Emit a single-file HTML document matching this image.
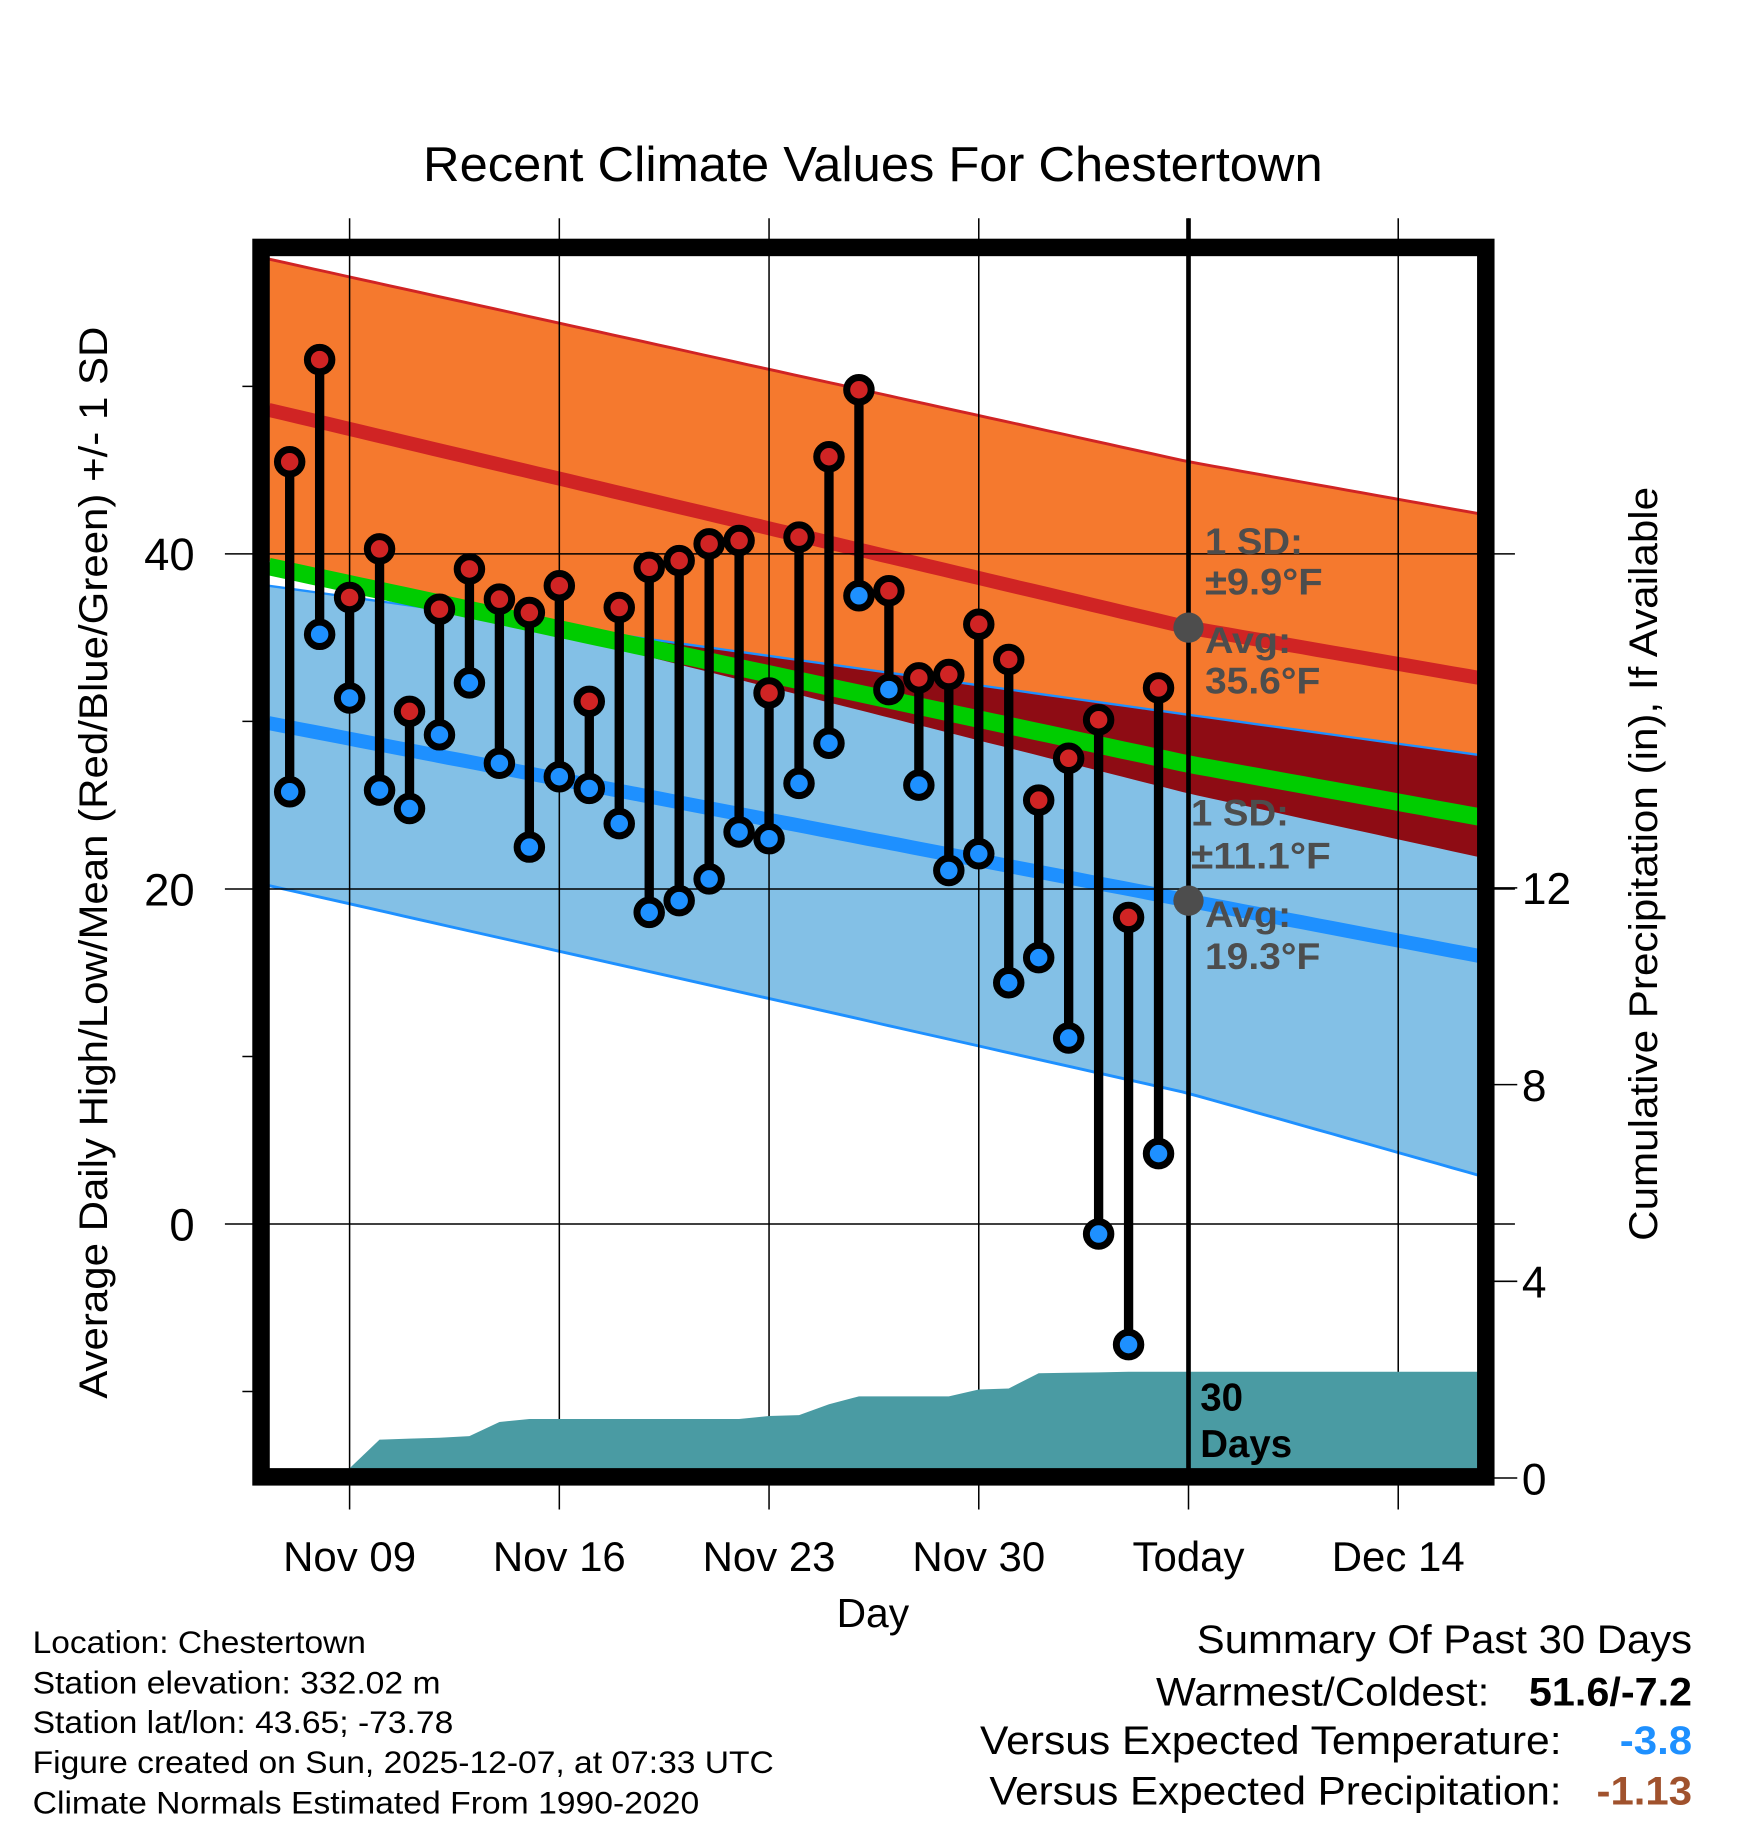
<!DOCTYPE html>
<html><head><meta charset="utf-8"><style>
html,body{margin:0;padding:0;background:#fff}
svg{display:block}
text{font-family:"Liberation Sans",Arial,sans-serif}
</style></head><body>
<svg id="c" width="1748" height="1828" viewBox="0 0 1500 1568" xmlns="http://www.w3.org/2000/svg">
<rect width="1500" height="1568" fill="#fff"/>
<defs><clipPath id="plotclip"><rect x="231" y="219" width="1037" height="1041"/></clipPath></defs>
<g id="bands" clip-path="url(#plotclip)"></g>
<g id="grid"></g>
<g id="precip" clip-path="url(#plotclip)"></g>
<g id="marks"></g>
<g id="axes"></g>
<text x="749" y="155" font-size="42" text-anchor="middle" textLength="772" lengthAdjust="spacingAndGlyphs">Recent Climate Values For Chestertown</text>
<text transform="translate(92,740) rotate(-90)" font-size="34" text-anchor="middle" textLength="920" lengthAdjust="spacingAndGlyphs">Average Daily High/Low/Mean (Red/Blue/Green) +/- 1 SD</text>
<text transform="translate(1422,741) rotate(-90)" font-size="34" text-anchor="middle" textLength="647" lengthAdjust="spacingAndGlyphs">Cumulative Precipitation (in), If Available</text>
<text x="749" y="1396" font-size="35" text-anchor="middle">Day</text>
<g font-size="27" lengthAdjust="spacingAndGlyphs">
<text x="28" y="1418" textLength="286" lengthAdjust="spacingAndGlyphs">Location: Chestertown</text>
<text x="28" y="1453" textLength="350" lengthAdjust="spacingAndGlyphs">Station elevation: 332.02 m</text>
<text x="28" y="1487" textLength="361" lengthAdjust="spacingAndGlyphs">Station lat/lon: 43.65; -73.78</text>
<text x="28" y="1521" textLength="636" lengthAdjust="spacingAndGlyphs">Figure created on Sun, 2025-12-07, at 07:33 UTC</text>
<text x="28" y="1556" textLength="572" lengthAdjust="spacingAndGlyphs">Climate Normals Estimated From 1990-2020</text>
</g>
<g font-size="34">
<text x="1027" y="1418" textLength="425" lengthAdjust="spacingAndGlyphs">Summary Of Past 30 Days</text>
<text x="992" y="1463" textLength="286" lengthAdjust="spacingAndGlyphs">Warmest/Coldest:</text>
<text x="1312" y="1463" font-weight="bold" textLength="140" lengthAdjust="spacingAndGlyphs">51.6/-7.2</text>
<text x="841" y="1505" textLength="499" lengthAdjust="spacingAndGlyphs">Versus Expected Temperature:</text>
<text x="1390" y="1505" font-weight="bold" fill="#1e90ff" textLength="62" lengthAdjust="spacingAndGlyphs">-3.8</text>
<text x="849" y="1548" textLength="491" lengthAdjust="spacingAndGlyphs">Versus Expected Precipitation:</text>
<text x="1370" y="1548" font-weight="bold" fill="#a0522d" textLength="82" lengthAdjust="spacingAndGlyphs">-1.13</text>
</g>
</svg>
<script>
// Data
const highs=[45.5,51.6,37.4,40.3,30.6,36.7,39.1,37.3,36.5,38.1,31.2,36.8,39.2,39.6,40.6,40.8,31.7,41.0,45.8,49.8,37.8,32.6,32.8,35.8,33.7,25.3,27.8,30.1,18.3,32.0];
const lows=[25.8,35.2,31.4,25.9,24.8,29.2,32.3,27.5,22.5,26.7,26.0,23.9,18.6,19.3,20.6,23.4,23.0,26.3,28.7,37.5,31.9,26.2,21.1,22.1,14.4,15.9,11.1,-0.6,-7.2,4.2];
const precip=[0,0,0.2,0.78,0.8,0.82,0.85,1.14,1.2,1.2,1.2,1.2,1.2,1.2,1.2,1.2,1.26,1.28,1.5,1.66,1.66,1.66,1.66,1.8,1.82,2.13,2.14,2.15,2.16,2.16];
const normDays=[-2.7,28,37.7];
const highMean=[48.6,35.6,32.6];
const highUpper=[57.6,45.5,42.4];
const highLower=[39.6,25.7,21.9];
const lowMean=[29.9,19.3,16.0];
const lowUpper=[38.1,30.4,28.0];
const lowLower=[20.2,7.8,2.9];
const xTickDays=[0,7,14,21,28,35];
const xTickLabels=["Nov 09","Nov 16","Nov 23","Nov 30","Today","Dec 14"];
const yTicks=[0,20,40];
const yMinor=[-10,10,30,50];
const y2Ticks=[0,4,8,12];
const firstDay=-2; // Nov 7 relative to Nov 9
const todayDay=28;

const NS="http://www.w3.org/2000/svg";
const X=d=>300+d*25.71;
const Y=t=>1050-t*14.375;
const Y2=p=>1268-p*42.2;
function mk(tag,attrs,parent){const e=document.createElementNS(NS,tag);for(const k in attrs)e.setAttribute(k,attrs[k]);parent.appendChild(e);return e;}
function interp(arr,d){for(let i=0;i<normDays.length-1;i++){if(d<=normDays[i+1]||i==normDays.length-2){const f=(d-normDays[i])/(normDays[i+1]-normDays[i]);return arr[i]+f*(arr[i+1]-arr[i]);}}}
const sample=[];for(let d=-2.7;d<37.7;d+=0.5)sample.push(d);sample.push(37.9);
const line=a=>sample.map(d=>X(d).toFixed(1)+","+Y(interp(a,d)).toFixed(1)).join(" ");
const band=(u,l)=>line(u)+" "+sample.slice().reverse().map(d=>X(d).toFixed(1)+","+Y(interp(l,d)).toFixed(1)).join(" ");
const bands=document.getElementById('bands');
const defs=document.querySelector('defs');
const cp=mk('clipPath',{id:'hiclip'},defs);
mk('polygon',{points:band(highUpper,highLower)},cp);
let e;
e=mk('polygon',{points:band(highUpper,highLower),fill:'#f5792e'},bands);


e=mk('polygon',{points:band(lowUpper,lowLower),fill:'#83c0e6'},bands);


e=mk('polygon',{points:band(lowUpper,lowLower),fill:'#8e0c14','clip-path':'url(#hiclip)'},bands);


mk('polyline',{points:line(highUpper),fill:'none',stroke:'#d02424','stroke-width':2.5},bands);
mk('polyline',{points:line(lowUpper),fill:'none',stroke:'#1e90ff','stroke-width':2},bands);
mk('polyline',{points:line(lowLower),fill:'none',stroke:'#1e90ff','stroke-width':2.5},bands);
const meanArr=highMean.map((h,i)=>(h+lowMean[i])/2);
e=mk('polyline',{points:line(meanArr),fill:'none',stroke:'#00cc00','stroke-width':15},bands);


e=mk('polyline',{points:line(highMean),fill:'none',stroke:'#d02424','stroke-width':12},bands);


e=mk('polyline',{points:line(lowMean),fill:'none',stroke:'#1e90ff','stroke-width':12},bands);



const grid=document.getElementById('grid');
xTickDays.forEach(d=>{mk('line',{x1:X(d),x2:X(d),y1:187,y2:1295,stroke:'#000','stroke-width':1.3},grid);});
yTicks.forEach(t=>{mk('line',{x1:193,x2:1300,y1:Y(t),y2:Y(t),stroke:'#000','stroke-width':1.3},grid);});

const pr=document.getElementById('precip');
let pts=X(-2.7)+","+Y2(0)+" ";
precip.forEach((p,i)=>{pts+=X(firstDay+i+(i==1?0.6:0)).toFixed(1)+","+Y2(p).toFixed(1)+" ";});
pts+=X(37.9)+","+Y2(precip[precip.length-1])+" "+X(37.9)+","+Y2(0);
e=mk('polygon',{points:pts,fill:'#4a9ba3'},pr);



const marks=document.getElementById('marks');
e=mk('line',{x1:X(todayDay),x2:X(todayDay),y1:187,y2:1262,stroke:'#000','stroke-width':4},marks);


highs.forEach((h,i)=>{
  const x=X(firstDay+i);
  const s=mk('line',{x1:x,x2:x,y1:Y(h),y2:Y(lows[i]),stroke:'#000','stroke-width':8},marks);
  
  
});
highs.forEach((h,i)=>{
  const x=X(firstDay+i);
  [[h,'#d02424','high-point'],[lows[i],'#1e90ff','low-point']].forEach(([v,c,n])=>{
    const o=mk('circle',{cx:x,cy:Y(v),r:10.5,fill:c,stroke:'#000','stroke-width':6},marks);
    
    
  });
});
mk('circle',{cx:X(todayDay),cy:Y(interp(highMean,todayDay)),r:13,fill:'#4d4d4d'},marks);
mk('circle',{cx:X(todayDay),cy:Y(interp(lowMean,todayDay)),r:13,fill:'#4d4d4d'},marks);
const ann=[["1 SD:",1034,475,84],["±9.9°F",1034,510,101],["Avg:",1034,560,74],["35.6°F",1034,595,99],["1 SD:",1022,708,84],["±11.1°F",1022,745,120],["Avg:",1034,795,74],["19.3°F",1034,831,99]];
ann.forEach(([t,x,y,w])=>{const a=mk('text',{x:x,y:y,'font-size':32,'font-weight':'bold',fill:'#4d4d4d',textLength:w,lengthAdjust:'spacingAndGlyphs'},marks);a.textContent=t;

});
[["30",1030,1210],["Days",1030,1250]].forEach(([t,x,y])=>{const a=mk('text',{x:x,y:y,'font-size':33,'font-weight':'bold',fill:'#000'},marks);a.textContent=t;

});

const ax=document.getElementById('axes');
e=mk('rect',{x:224,y:212,width:1051,height:1055,fill:'none',stroke:'#000','stroke-width':15},ax);


yMinor.forEach(t=>mk('line',{x1:208,x2:224,y1:Y(t),y2:Y(t),stroke:'#000','stroke-width':1.3},ax));
yTicks.forEach(t=>{const a=mk('text',{x:167,y:Y(t)+14,'font-size':39,'text-anchor':'end'},ax);a.textContent=t;

});
y2Ticks.forEach(p=>{mk('line',{x1:1275,x2:1302,y1:Y2(p),y2:Y2(p),stroke:'#000','stroke-width':1.3},ax);
const a=mk('text',{x:1306,y:Y2(p)+14,'font-size':38},ax);a.textContent=p;

});
xTickDays.forEach((d,i)=>{const a=mk('text',{x:X(d),y:1348,'font-size':36,'text-anchor':'middle'},ax);a.textContent=xTickLabels[i];

});
</script>
</body></html>
